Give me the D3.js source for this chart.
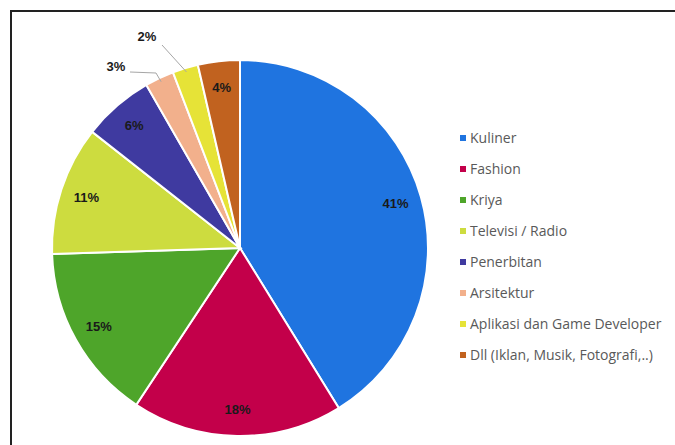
<!DOCTYPE html>
<html>
<head>
<meta charset="utf-8">
<script src="https://cdn.jsdelivr.net/npm/d3@7"></script>
<style>
  body { margin: 0; background: #fff; }
  svg { display: block; }
</style>
</head>
<body>
<div class="canvas"></div>
<script>
// data
const categories = ['Kuliner', 'Fashion', 'Kriya', 'Televisi / Radio', 'Penerbitan',
                    'Arsitektur', 'Aplikasi dan Game Developer', 'Dll (Iklan, Musik, Fotografi,..)'];
const values = [41.2, 18.1, 15.2, 11.1, 6.1, 2.5, 2.2, 3.6];
const colors = ['#1f74e0', '#c3004a', '#4ea52a', '#cddc3f', '#3f3aa0', '#f2b08c', '#e6e337', '#c1621f'];
// slices with labels outside (pointer line)
const outside = ['Arsitektur', 'Aplikasi dan Game Developer'];

const dims = { width: 675, height: 445, radius: 188 };
const cent = { x: 240, y: 248 };

const svg = d3.select('.canvas')
              .append('svg')
              .attr('width', dims.width)
              .attr('height', dims.height);

// frame
svg.append('rect')
   .attr('x', 11).attr('y', 11)
   .attr('width', 700).attr('height', 460)
   .attr('fill', 'none')
   .attr('stroke', '#222')
   .attr('stroke-width', 2);

const data = categories.map((c, i) => ({ name: c, value: values[i] }));
const total = d3.sum(values);

const color = d3.scaleOrdinal().domain(categories).range(colors);

const pie = d3.pie().sort(null).value(d => d.value);
const arcPath = d3.arc().outerRadius(dims.radius).innerRadius(0);
const labelArc = d3.arc().outerRadius(dims.radius * 0.86).innerRadius(dims.radius * 0.86);

const graph = svg.append('g')
                 .attr('transform', `translate(${cent.x}, ${cent.y})`);

const arcs = pie(data);

graph.selectAll('path')
     .data(arcs)
     .enter()
     .append('path')
     .attr('d', arcPath)
     .attr('fill', d => color(d.data.name))
     .attr('stroke', '#fff')
     .attr('stroke-width', 2);

// rounded to whole percent (Arsitektur shown as 3%)
const pct = d => Math.round(d.data.value / total * 100 + 0.05) + '%';

// inside labels
graph.selectAll('text.inlabel')
     .data(arcs.filter(d => !outside.includes(d.data.name)))
     .enter()
     .append('text')
     .attr('class', 'inlabel')
     .attr('transform', d => `translate(${labelArc.centroid(d)})`)
     .attr('text-anchor', 'middle')
     .attr('dy', '0.35em')
     .attr('font-family', 'Liberation Sans Narrow, Arial Narrow, sans-serif')
     .attr('font-weight', 'bold')
     .attr('font-size', 13)
     .attr('fill', '#1a1a1a')
     .text(pct);

// outside labels with leader lines
const outLabel = {
    'Arsitektur': { pos: [-124, -182], bend: [[-110, -176], [-84, -175]] },
    'Aplikasi dan Game Developer': { pos: [-93, -212], bend: [[-78, -203]] }
};
const outArc = d3.arc().outerRadius(dims.radius - 4).innerRadius(dims.radius - 4);
const outs = arcs.filter(d => outside.includes(d.data.name));

graph.selectAll('polyline.leader')
     .data(outs)
     .enter()
     .append('polyline')
     .attr('class', 'leader')
     .attr('fill', 'none')
     .attr('stroke', '#a6a6a6')
     .attr('stroke-width', 1)
     .attr('points', d => {
         const p = outArc.centroid(d);
         return [...outLabel[d.data.name].bend, p].map(q => q.join(',')).join(' ');
     });

graph.selectAll('text.outlabel')
     .data(outs)
     .enter()
     .append('text')
     .attr('class', 'outlabel')
     .attr('x', d => outLabel[d.data.name].pos[0])
     .attr('y', d => outLabel[d.data.name].pos[1])
     .attr('text-anchor', 'middle')
     .attr('dy', '0.35em')
     .attr('font-family', 'Liberation Sans Narrow, Arial Narrow, sans-serif')
     .attr('font-weight', 'bold')
     .attr('font-size', 13)
     .attr('fill', '#1a1a1a')
     .text(pct);

// legend
const legend = svg.append('g')
                  .attr('transform', 'translate(460, 138)');

const rows = legend.selectAll('g')
                   .data(categories)
                   .enter()
                   .append('g')
                   .attr('transform', (d, i) => `translate(0, ${i * 31})`);

rows.append('rect')
    .attr('x', 0).attr('y', -3)
    .attr('width', 6).attr('height', 6)
    .attr('fill', d => color(d));

rows.append('text')
    .attr('x', 10)
    .attr('dy', '0.35em')
    .attr('font-family', 'Open Sans, sans-serif')
    .attr('font-size', 14)
    .attr('fill', '#595959')
    .text(d => d);
</script>
</body>
</html>
